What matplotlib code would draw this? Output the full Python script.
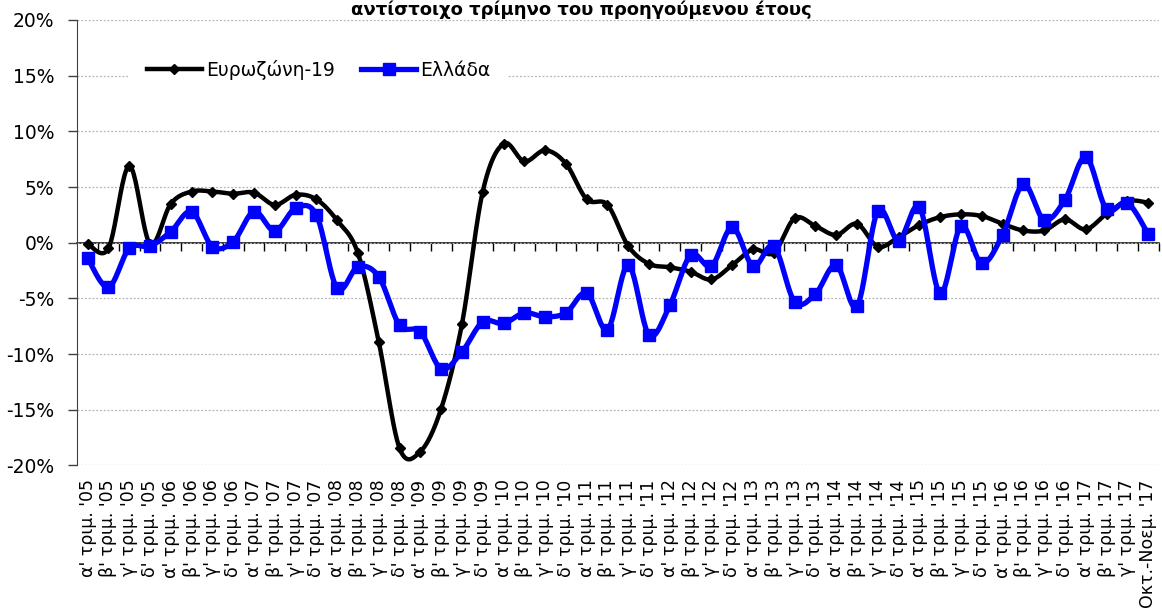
import numpy as np
import matplotlib
matplotlib.use("Agg")
import matplotlib.pyplot as plt
from matplotlib.ticker import FuncFormatter

# quarterly % change vs same quarter of previous year
quarters = ["α'", "β'", "γ'", "δ'"]
years = ["'05", "'06", "'07", "'08", "'09", "'10", "'11", "'12", "'13", "'14", "'15", "'16", "'17"]
last_label = "Οκτ.-Νοεμ. '17"

eurozone = [-0.1, -0.5, 6.9, -0.1, 3.5, 4.6, 4.6, 4.4, 4.5, 3.4, 4.3, 3.9, 2.0,
            -0.95, -8.9, -18.45, -18.75, -14.9, -7.3, 4.6, 8.9, 7.3, 8.3, 7.1,
            3.9, 3.4, -0.3, -1.9, -2.2, -2.6, -3.3, -2.0, -0.6, -0.9, 2.2, 1.5,
            0.7, 1.7, -0.35, 0.5, 1.6, 2.3, 2.55, 2.4, 1.7, 1.1, 1.1, 2.1, 1.2,
            2.6, 3.75, 3.6]

greece = [-1.4, -4.0, -0.5, -0.3, 1.0, 2.8, -0.35, 0.1, 2.8, 1.05, 3.1, 2.5,
          -4.1, -2.15, -3.05, -7.4, -8.0, -11.3, -9.8, -7.1, -7.25, -6.3, -6.65,
          -6.3, -4.5, -7.8, -2.0, -8.3, -5.6, -1.1, -2.1, 1.4, -2.1, -0.3, -5.3,
          -4.6, -2.0, -5.7, 2.85, 0.2, 3.2, -4.55, 1.5, -1.85, 0.7, 5.25, 2.05,
          3.85, 7.7, 3.0, 3.6, 0.8]

labels = [f"{q} τριμ. {y}" for y in years for q in quarters][:len(eurozone) - 1] + [last_label]

plt.rcParams['font.family'] = ['DejaVu Sans']


def smooth(y, steps=24):
    """Catmull-Rom style smoothing, like the spreadsheet 'smoothed line'."""
    p = np.column_stack([np.arange(len(y)), np.asarray(y, dtype=float)])
    ext = np.vstack([p[0], p, p[-1]])
    t = np.linspace(0, 1, steps, endpoint=False)[:, None]
    out = []
    for i in range(len(p) - 1):
        p0, p1, p2, p3 = ext[i], ext[i + 1], ext[i + 2], ext[i + 3]
        c1 = p1 + (p2 - p0) / 6
        c2 = p2 - (p3 - p1) / 6
        seg = ((1 - t) ** 3) * p1 + 3 * ((1 - t) ** 2) * t * c1 + 3 * (1 - t) * t ** 2 * c2 + t ** 3 * p2
        out.append(seg)
    out.append(p[-1:])
    out = np.vstack(out)
    return out[:, 0], out[:, 1]


fig = plt.figure(figsize=(11.62, 6.15), dpi=100)
ax = fig.add_axes([0.0665, 0.2431, 0.9305, 0.7244])

x = np.arange(len(eurozone))

sx, sy = smooth(eurozone)
ax.plot(sx, sy, color="black", lw=3.2, solid_capstyle="round", zorder=3)
ax.plot(x, eurozone, ls="none", marker="D", ms=5, color="black", zorder=3)

gx, gy = smooth(greece)
ax.plot(gx, gy, color="#0000ff", lw=3.8, solid_capstyle="round", zorder=4)
ax.plot(x, greece, ls="none", marker="s", ms=8, color="#0000ff", zorder=4)

# legend handles
h1, = ax.plot([], [], color="black", lw=3.2, marker="D", ms=5, label="Ευρωζώνη-19")
h2, = ax.plot([], [], color="#0000ff", lw=3.8, marker="s", ms=8, label="Ελλάδα")

ax.set_xlim(-0.5, len(eurozone) - 0.5)
ax.set_ylim(-20, 20)
ax.set_yticks(np.arange(-20, 21, 5))
ax.yaxis.set_major_formatter(FuncFormatter(lambda v, pos: f"{v:.0f}%"))
ax.grid(axis="y", color="#b4b4b4", ls=(0, (1.5, 1.5)), lw=0.9)
ax.set_axisbelow(True)

for s in ["top", "right", "bottom"]:
    ax.spines[s].set_visible(False)
ax.spines["left"].set_color("#404040")
ax.tick_params(axis="y", length=6.5, width=1, color="#404040", pad=10, labelsize=13.5)

ax.set_xticks(x)
ax.set_xticklabels(labels, rotation=90, fontsize=12.5)
ax.tick_params(axis="x", length=0, pad=10)

# zero line with category tick marks
zero = ax.secondary_xaxis(0, transform=ax.transData)
zero.set_xticks(np.arange(len(eurozone)) + 0.5)
zero.tick_params(axis="x", direction="out", length=6, width=1, color="black", labelbottom=False, labeltop=False)
for s in zero.spines.values():
    s.set_color("black")
    s.set_linewidth(1.1)

leg = ax.legend(handles=[h1, h2], loc="center left", bbox_to_anchor=(0.049, 0.888),
                ncol=2, frameon=True, fontsize=13.5, handlelength=2.9,
                handletextpad=0.25, columnspacing=1.4, borderpad=0.9, borderaxespad=0)
leg.get_frame().set_facecolor("white")
leg.get_frame().set_edgecolor("none")
leg.get_frame().set_alpha(1)
leg.get_frame().set_boxstyle("square", pad=0)
leg.set_zorder(5)

fig.text(0.5, 1 - 0.5 / 615, "αντίστοιχο τρίμηνο του προηγούμενου έτους",
         ha="center", va="top", fontsize=13, fontweight="bold")

fig.savefig("out.png", dpi=100)
